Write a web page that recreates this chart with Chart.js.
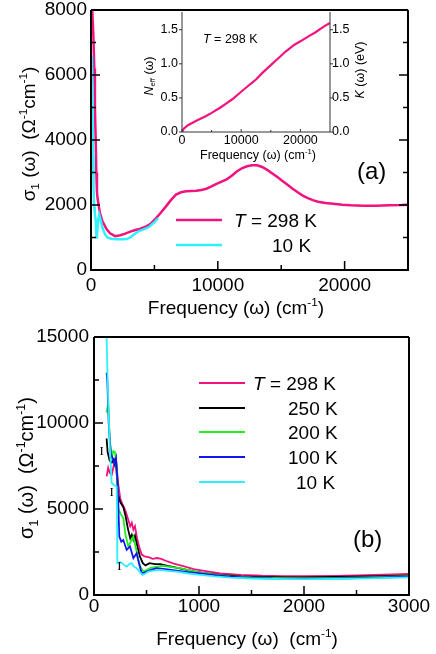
<!DOCTYPE html>
<html>
<head>
<meta charset="utf-8">
<script src="https://cdn.jsdelivr.net/npm/chart.js@4.4.1/dist/chart.umd.min.js"></script>
<style>
body { margin: 0; background: #fff; }
#wrap { position: relative; width: 436px; height: 654px; }
canvas { position: absolute; }
</style>
</head>
<body>
<div id="wrap">
<canvas id="chartA" width="436" height="320" style="left:0;top:0"></canvas>
<canvas id="inset" width="250" height="170" style="left:130px;top:0"></canvas>
<canvas id="chartB" width="436" height="334" style="left:0;top:320px"></canvas>
</div>
<script>
var FONT = '"Liberation Sans", Arial, Helvetica, sans-serif';
var PINK = '#f2137f';
var CYAN = '#2ef0ff';
var GREEN = '#1fee1f';
var BLUE = '#1414ee';
var BLACK = '#000000';

// ─── PANEL (a) : sigma_1 up to 25000 cm-1 ──────────────────────────────────────
var freqA298 = [70, 130, 190, 260, 310, 370, 420, 470, 520, 620, 710, 900, 1240, 1500, 1900, 2300, 2700, 3100, 3500,
    3900, 4300, 4700, 5100, 5500, 5900, 6300, 6700, 7100, 7500, 7900, 8300, 8700, 9100, 9500, 9900, 10300,
    10700, 11100, 11500, 11900, 12300, 12700, 13100, 13500, 13900, 14300, 14700, 15100, 15500, 15900, 16300,
    16700, 17100, 17500, 17900, 18500, 19100, 19800, 20500, 21500, 22500, 23500, 24500, 25000];
var sigmaA298 = [8300, 7700, 7200, 6200, 5000, 4000, 3000, 2400, 2200, 1950, 1750, 1500, 1250, 1130, 1040, 1070, 1120, 1180, 1230,
    1270, 1330, 1420, 1580, 1760, 1950, 2150, 2320, 2390, 2420, 2430, 2440, 2460, 2500, 2570, 2650, 2720,
    2790, 2900, 3030, 3130, 3190, 3220, 3220, 3170, 3080, 2970, 2860, 2740, 2620, 2500, 2390,
    2290, 2210, 2150, 2100, 2060, 2040, 2010, 1990, 1980, 1980, 1990, 2000, 2010];
var freqA10 = [70, 120, 160, 200, 250, 300, 380, 430, 470, 550, 650, 750, 900, 1100, 1300, 1600, 2000, 2400, 2800,
    3100, 3400, 3800, 4200, 4600, 5000, 5300];
var sigmaA10 = [6600, 5000, 3500, 2500, 1950, 1750, 1500, 1000, 1050, 1500, 1700, 1550, 1300, 1100, 1000, 960, 945, 945, 950,
    1000, 1100, 1200, 1260, 1330, 1470, 1600];
var xTicksA = [0, 10000, 20000];
var xMinorA = [5000, 15000];
var yTicksA = [0, 2000, 4000, 6000, 8000];
var yMinorA = [1000, 3000, 5000, 7000];

// ─── INSET : N_eff / K ──────────────────────────────────────────────────────────
var freqInset = [0, 300, 1000, 2500, 4000, 5000, 6500, 7500, 8500, 10000, 11500, 12500, 13500, 15000, 16500,
    17500, 19000, 20000, 21500, 22500, 24000, 25000];
var nEffInset = [0, 0.05, 0.10, 0.17, 0.23, 0.28, 0.36, 0.42, 0.48, 0.59, 0.70, 0.77, 0.86, 0.98, 1.10,
    1.18, 1.28, 1.33, 1.41, 1.46, 1.55, 1.60];
var xTicksInset = [0, 10000, 20000];
var xMinorInset = [5000, 15000];
var yTicksInset = [0, 0.5, 1.0, 1.5];

// ─── PANEL (b) : sigma_1 up to 3000 cm-1 ───────────────────────────────────────
var freqB298 = [120, 135, 150, 170, 190, 210, 230, 250, 270, 300, 330, 345, 360, 375, 390, 410, 430, 455, 480, 520,
    560, 600, 640, 700, 760, 850, 950, 1050, 1200, 1400, 1600, 1800, 2000, 2300, 2600, 3000];
var sigmaB298 = [6900, 7400, 7100, 7000, 7600, 7800, 6500, 5600, 5300, 4900, 4300, 4000, 4200, 3800, 4000, 3300, 2800, 2350, 2250, 2200,
    2100, 2150, 2100, 1950, 1830, 1680, 1500, 1400, 1260, 1170, 1120, 1100, 1090, 1110, 1160, 1220];
var freqB250 = [120, 130, 150, 170, 190, 210, 230, 250, 280, 300, 325, 345, 360, 375, 390, 410, 438, 465, 490, 530,
    580, 630, 700, 760, 850, 950, 1050, 1200, 1400, 1600, 1800, 2000, 2300, 2600, 3000];
var sigmaB250 = [9100, 8300, 7800, 7700, 7900, 7600, 5800, 5400, 5100, 4600, 3800, 3300, 3500, 3200, 3450, 2900, 2230, 1850, 1720, 1850,
    1800, 1800, 1700, 1620, 1500, 1370, 1270, 1170, 1080, 1050, 1030, 1030, 1050, 1080, 1130];
var freqB200 = [120, 136, 150, 170, 184, 200, 215, 232, 255, 279, 300, 327, 350, 375, 400, 422, 445, 470, 500, 533,
    600, 660, 740, 820, 920, 1010, 1150, 1300, 1500, 1700, 2000, 2300, 2600, 3000];
var sigmaB200 = [10600, 11200, 9000, 8000, 8360, 8300, 7600, 5000, 4700, 4470, 3500, 2820, 3100, 3400, 2700, 2040, 1600, 1360, 1450, 1560,
    1650, 1690, 1620, 1560, 1420, 1300, 1180, 1080, 1020, 990, 980, 990, 1030, 1090];
var freqB100 = [120, 127, 140, 160, 184, 195, 210, 225, 241, 260, 279, 311, 343, 375, 406, 430, 454, 480, 502, 550,
    597, 680, 787, 900, 1009, 1150, 1300, 1500, 1700, 2000, 2300, 2600, 3000];
var sigmaB100 = [12930, 12440, 10000, 8200, 7870, 7600, 7950, 6500, 3400, 3100, 3200, 2620, 2820, 2140, 2430, 1800, 1260, 1300, 1360, 1480,
    1560, 1500, 1420, 1330, 1260, 1150, 1060, 1000, 960, 950, 960, 1000, 1060];
var freqB10 = [120, 130, 140, 152, 168, 190, 216, 220, 222, 240, 263, 285, 311, 335, 358, 380, 406, 435, 463, 490,
    517, 570, 628, 700, 787, 900, 1009, 1150, 1300, 1500, 1700, 2000, 2300, 2600, 3000];
var sigmaB10 = [14960, 12500, 10500, 8460, 6510, 6400, 6310, 4000, 1850, 1900, 1880, 1750, 1650, 1800, 1850, 1650, 1560, 1350, 1170, 1250,
    1360, 1420, 1460, 1400, 1360, 1250, 1170, 1080, 1010, 960, 930, 920, 930, 970, 1030];
var errFreqB = [73, 168, 241];
var errSigmaB = [8360, 5930, 1650];
var legendLabelsB = ['298 K', '250 K', '200 K', '100 K', '10 K'];
var xTicksB = [0, 1000, 2000, 3000];
var xMinorB = [500, 1500, 2500];
var yTicksB = [0, 5000, 10000, 15000];
var yMinorB = [2500, 7500, 12500];

// ────────────────────────────────────────────────────────────────────────────────
// ─── HELPERS ────────────────────────────────────────────────────────────────────
//
function pts(xs, ys) {
    var out = [];
    for (var i = 0; i < xs.length; i++) out.push({ x: xs[i], y: ys[i] });
    return out;
}
function plain(v) {
    return String(v);
}
function fontFor(kind, size) {
    if (kind === 'sup' || kind === 'sub') return (size * 0.62) + 'px ' + FONT;
    if (kind === 'i') return 'italic ' + size + 'px ' + FONT;
    return size + 'px ' + FONT;
}
// parts: [[text, kind], ...] kind '' | 'sup' | 'sub' | 'i'
function richText(ctx, parts, x, y, size, align, rotate) {
    ctx.save();
    ctx.translate(x, y);
    if (rotate) ctx.rotate(-Math.PI / 2);
    ctx.fillStyle = '#000';
    ctx.textAlign = 'left';
    ctx.textBaseline = 'alphabetic';
    var total = 0;
    parts.forEach(function (p) { ctx.font = fontFor(p[1], size); total += ctx.measureText(p[0]).width; });
    var cx = align === 'center' ? -total / 2 : 0;
    parts.forEach(function (p) {
        ctx.font = fontFor(p[1], size);
        var dy = p[1] === 'sup' ? -size * 0.4 : (p[1] === 'sub' ? size * 0.22 : 0);
        ctx.fillText(p[0], cx, dy + size * 0.36);
        cx += ctx.measureText(p[0]).width;
    });
    ctx.restore();
}
function fixWidth(w) {
    return function (s) { s.width = w; s.paddingTop = 0; s.paddingBottom = 0; s.paddingLeft = 0; s.paddingRight = 0; };
}
function fixHeight(h) {
    return function (s) { s.height = h; s.paddingTop = 0; s.paddingBottom = 0; s.paddingLeft = 0; s.paddingRight = 0; };
}
function setTicks(values) {
    return function (s) { s.ticks = values.map(function (v) { return { value: v }; }); };
}
// frame + ticks, dir 1 = inward, -1 = outward
function drawFrame(chart, f) {
    var ctx = chart.ctx, a = chart.chartArea, xs = chart.scales.x, ys = chart.scales.y;
    ctx.save();
    ctx.strokeStyle = f.color;
    ctx.lineWidth = f.lw;
    ctx.beginPath();
    if (f.top) { ctx.moveTo(a.left, a.top); ctx.lineTo(a.right, a.top); }
    ctx.moveTo(a.left, a.top); ctx.lineTo(a.left, a.bottom);
    ctx.lineTo(a.right, a.bottom); ctx.lineTo(a.right, a.top);
    ctx.stroke();
    ctx.lineWidth = f.tickLw;
    ctx.beginPath();
    function xt(list, len) {
        list.forEach(function (v) {
            var p = xs.getPixelForValue(v);
            ctx.moveTo(p, a.bottom); ctx.lineTo(p, a.bottom - len * f.xDir);
        });
    }
    function yt(list, len) {
        list.forEach(function (v) {
            var p = ys.getPixelForValue(v);
            ctx.moveTo(a.left, p); ctx.lineTo(a.left + len * f.yDir, p);
            if (f.right) { ctx.moveTo(a.right, p); ctx.lineTo(a.right - len * f.yDir, p); }
        });
    }
    xt(f.xMajor, f.major); xt(f.xMinor, f.minor);
    yt(f.yMajor, f.major); yt(f.yMinor, f.minor);
    ctx.stroke();
    ctx.restore();
}
function legendLine(ctx, color, x1, x2, y, lw) {
    ctx.save();
    ctx.strokeStyle = color; ctx.lineWidth = lw;
    ctx.beginPath(); ctx.moveTo(x1, y); ctx.lineTo(x2, y); ctx.stroke();
    ctx.restore();
}
function baseOptions() {
    return {
        responsive: false,
        devicePixelRatio: 1,
        animation: false,
        events: [],
        plugins: { legend: { display: false }, title: { display: false }, tooltip: { enabled: false } },
        elements: { point: { radius: 0 }, line: { tension: 0 } }
    };
}
function line(data, color, lw) {
    return { data: data, borderColor: color, borderWidth: lw, pointRadius: 0, fill: false, clip: 0 };
}

// ────────────────────────────────────────────────────────────────────────────────
// ─── CHART (a) ──────────────────────────────────────────────────────────────────
//
var optsA = baseOptions();
optsA.layout = { padding: { left: 0, top: 10, right: 28, bottom: 0 } };
optsA.scales = {
    x: {
        type: 'linear', min: 0, max: 25000,
        afterFit: fixHeight(50), afterBuildTicks: setTicks(xTicksA),
        grid: { display: false, drawTicks: false }, border: { display: false },
        ticks: { padding: 4, color: '#000', font: { family: FONT, size: 19 }, maxRotation: 0, callback: plain }
    },
    y: {
        min: 0, max: 8000,
        afterFit: fixWidth(91), afterBuildTicks: setTicks(yTicksA),
        grid: { display: false, drawTicks: false }, border: { display: false },
        ticks: { padding: 4, color: '#000', font: { family: FONT, size: 19 }, callback: plain }
    }
};
new Chart(document.getElementById('chartA'), {
    type: 'line',
    data: { datasets: [line(pts(freqA10, sigmaA10), CYAN, 2.5), line(pts(freqA298, sigmaA298), PINK, 2.5)] },
    options: optsA,
    plugins: [{
        id: 'decorA',
        afterDraw: function (chart) {
            var ctx = chart.ctx;
            drawFrame(chart, { color: '#000', lw: 2, tickLw: 1.5, top: true, right: true, xDir: 1, yDir: 1, major: 9, minor: 5,
                xMajor: xTicksA, xMinor: xMinorA, yMajor: yTicksA, yMinor: yMinorA });
            richText(ctx, [['σ', ''], ['1', 'sub'], [' (ω)  (Ω', ''], ['-1', 'sup'], ['cm', ''], ['-1', 'sup'], [')', '']], 28, 134, 19, 'center', true);
            richText(ctx, [['Frequency (ω) (cm', ''], ['-1', 'sup'], [')', '']], 236, 307, 19, 'center', false);
            legendLine(ctx, PINK, 176, 222, 220, 2.5);
            legendLine(ctx, CYAN, 176, 222, 245, 2.5);
            richText(ctx, [['T', 'i'], [' = 298 K', '']], 234, 220, 19, 'left', false);
            richText(ctx, [['10 K', '']], 272, 245, 19, 'left', false);
            richText(ctx, [['(a)', '']], 357, 170, 24, 'left', false);
        }
    }]
});

// ────────────────────────────────────────────────────────────────────────────────
// ─── INSET ──────────────────────────────────────────────────────────────────────
//
var optsI = baseOptions();
optsI.layout = { padding: { left: 0, top: 12, right: 0, bottom: 0 } };
optsI.scales = {
    x: {
        type: 'linear', min: 0, max: 25000,
        afterFit: fixHeight(38), afterBuildTicks: setTicks(xTicksInset),
        grid: { display: false, drawTicks: false }, border: { display: false },
        ticks: { padding: 1, color: '#000', font: { family: FONT, size: 12.5 }, maxRotation: 0, callback: plain }
    },
    y: {
        position: 'left', min: 0, max: 1.76,
        afterFit: fixWidth(52), afterBuildTicks: setTicks(yTicksInset),
        grid: { display: false, drawTicks: false }, border: { display: false },
        ticks: { padding: 4, color: '#000', font: { family: FONT, size: 12.5 }, callback: function (v) { return v.toFixed(1); } }
    },
    y2: {
        position: 'right', min: 0, max: 1.76,
        afterFit: fixWidth(50), afterBuildTicks: setTicks(yTicksInset),
        grid: { display: false, drawTicks: false }, border: { display: false },
        ticks: { padding: 2, color: '#000', font: { family: FONT, size: 12.5 }, callback: function (v) { return v.toFixed(1); } }
    }
};
new Chart(document.getElementById('inset'), {
    type: 'line',
    data: { datasets: [Object.assign(line(pts(freqInset, nEffInset), PINK, 2.2), { yAxisID: 'y' })] },
    options: optsI,
    plugins: [{
        id: 'decorI',
        afterDraw: function (chart) {
            var ctx = chart.ctx;
            drawFrame(chart, { color: '#333', lw: 1, tickLw: 1, top: false, right: true, xDir: 1, yDir: -1, major: 3, minor: 2,
                xMajor: xTicksInset, xMinor: xMinorInset, yMajor: yTicksInset, yMinor: [] });
            richText(ctx, [['N', 'i'], ['eff', 'sub'], [' (ω)', '']], 18, 76, 12.5, 'center', true);
            richText(ctx, [['K', 'i'], [' (ω) (eV)', '']], 229, 70, 12.5, 'center', true);
            richText(ctx, [['Frequency (ω) (cm', ''], ['-1', 'sup'], [')', '']], 128, 154, 12.5, 'center', false);
            richText(ctx, [['T', 'i'], [' = 298 K', '']], 73, 38, 12.5, 'left', false);
        }
    }]
});

// ────────────────────────────────────────────────────────────────────────────────
// ─── CHART (b) ──────────────────────────────────────────────────────────────────
//
var optsB = baseOptions();
optsB.layout = { padding: { left: 0, top: 17, right: 27, bottom: 0 } };
optsB.scales = {
    x: {
        type: 'linear', min: 0, max: 3000,
        afterFit: fixHeight(59), afterBuildTicks: setTicks(xTicksB),
        grid: { display: false, drawTicks: false }, border: { display: false },
        ticks: { padding: 0, color: '#000', font: { family: FONT, size: 19 }, maxRotation: 0, callback: plain }
    },
    y: {
        min: 0, max: 15000,
        afterFit: fixWidth(94), afterBuildTicks: setTicks(yTicksB),
        grid: { display: false, drawTicks: false }, border: { display: false },
        ticks: { padding: 5, color: '#000', font: { family: FONT, size: 19 }, callback: plain }
    }
};
new Chart(document.getElementById('chartB'), {
    type: 'line',
    data: {
        datasets: [
            line(pts(freqB10, sigmaB10), CYAN, 1.8),
            line(pts(freqB100, sigmaB100), BLUE, 1.8),
            line(pts(freqB200, sigmaB200), GREEN, 1.8),
            line(pts(freqB250, sigmaB250), BLACK, 1.8),
            line(pts(freqB298, sigmaB298), PINK, 1.8)
        ]
    },
    options: optsB,
    plugins: [{
        id: 'decorB',
        afterDraw: function (chart) {
            var ctx = chart.ctx, xs = chart.scales.x, ys = chart.scales.y;
            drawFrame(chart, { color: '#000', lw: 2, tickLw: 1.5, top: true, right: false, xDir: 1, yDir: 1, major: 9, minor: 5,
                xMajor: xTicksB, xMinor: xMinorB, yMajor: yTicksB, yMinor: yMinorB });
            // error-bar glyphs
            ctx.save();
            ctx.fillStyle = '#000';
            ctx.font = '13px "Liberation Serif", "DejaVu Serif", serif';
            ctx.textAlign = 'center'; ctx.textBaseline = 'middle';
            for (var i = 0; i < errFreqB.length; i++) {
                ctx.fillText('I', xs.getPixelForValue(errFreqB[i]), ys.getPixelForValue(errSigmaB[i]));
            }
            ctx.restore();
            richText(ctx, [['σ', ''], ['1', 'sub'], [' (ω)  (Ω', ''], ['-1', 'sup'], ['cm', ''], ['-1', 'sup'], [')', '']], 26, 148, 20, 'center', true);
            richText(ctx, [['Frequency (ω)  (cm', ''], ['-1', 'sup'], [')', '']], 247, 318, 19, 'center', false);
            var colors = [PINK, BLACK, GREEN, BLUE, CYAN];
            var rows = [63, 88, 112, 137, 162];
            var textX = [288, 288, 288, 288, 296];
            for (var k = 0; k < colors.length; k++) {
                legendLine(ctx, colors[k], 199, 245, rows[k], 2);
            }
            richText(ctx, [['T', 'i'], [' = ' + legendLabelsB[0], '']], 253, rows[0], 19, 'left', false);
            for (var j = 1; j < legendLabelsB.length; j++) {
                richText(ctx, [[legendLabelsB[j], '']], textX[j], rows[j], 19, 'left', false);
            }
            richText(ctx, [['(b)', '']], 353, 218, 24, 'left', false);
        }
    }]
});
</script>
</body>
</html>
